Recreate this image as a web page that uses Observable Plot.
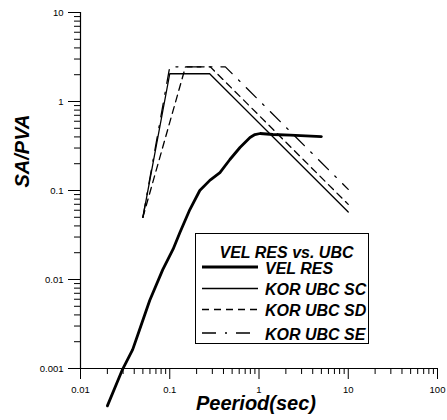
<!DOCTYPE html>
<html><head><meta charset="utf-8">
<script src="https://cdn.jsdelivr.net/npm/d3@7"></script>
<script src="https://cdn.jsdelivr.net/npm/@observablehq/plot@0.6"></script>
<style>body{margin:0;background:#fff;} #chart{width:447px;height:420px;} #dbg{position:absolute;left:250px;top:0;width:195px;font:7px monospace;color:transparent;word-break:break-all;pointer-events:none;}</style>
</head><body><div id="chart"></div><div id="dbg" aria-hidden="true"></div>
<script>
// ---- data ----
const velPeriod = [0.02, 0.0296, 0.0384, 0.046, 0.0596, 0.0835, 0.109, 0.13, 0.168, 0.217, 0.281, 0.365, 0.472, 0.612, 0.793, 0.9, 1.03, 1.43, 2.24, 5.0];
const velSA     = [0.00038, 0.00098, 0.00163, 0.00274, 0.0058, 0.0129, 0.0219, 0.0337, 0.0611, 0.100, 0.130, 0.159, 0.223, 0.304, 0.394, 0.425, 0.437, 0.426, 0.42, 0.404];
const scPeriod = [0.05, 0.1, 0.28, 10];
const scSA     = [0.05, 2.05, 2.05, 0.0574];
const sdPeriod = [0.05, 0.15, 0.285, 10];
const sdSA     = [0.05, 2.45, 2.45, 0.0698];
const sePeriod = [0.05, 0.1, 0.42, 10];
const seSA     = [0.05, 2.45, 2.45, 0.103];
const seriesNames = ["VEL RES", "KOR UBC SC", "KOR UBC SD", "KOR UBC SE"];
const legendTitle = "VEL RES vs. UBC";
const xTitle = "Peeriod(sec)";
const yTitle = "SA/PVA";
const xMajor = [0.01, 0.1, 1, 10, 100];
const xMajorLabels = ["0.01", "0.1", "1", "10", "100"];
const yMajor = [0.001, 0.01, 0.1, 1, 10];
const yMajorLabels = ["0.001", "0.01", "0.1", "1", "10"];
const minorFactors = [2, 3, 4, 5, 6, 7, 8, 9];

// ---- derived ----
const minorOf = majors => majors.slice(0, -1).flatMap(m => minorFactors.map(f => +(m * f).toPrecision(3)));
const xMinor = minorOf(xMajor);
const yMinor = minorOf(yMajor);
const toRows = (xs, ys) => xs.map((x, i) => ({x, y: ys[i]}));
const series = [toRows(velPeriod, velSA), toRows(scPeriod, scSA), toRows(sdPeriod, sdSA), toRows(sePeriod, seSA)];

// ---- styles ----
const styles = [
  {strokeWidth: 2.8, dash: null},
  {strokeWidth: 1.3, dash: null},
  {strokeWidth: 1.3, dash: "7,5"},
  {strokeWidth: 1.3, dash: "14,9,2,9"}
];
const FONT = "Liberation Sans, Arial, Helvetica, sans-serif";

const chart = Plot.plot({
  width: 447, height: 420,
  marginLeft: 80, marginRight: 10, marginTop: 12, marginBottom: 52,
  style: {fontFamily: FONT, fontSize: "9.5px", background: "white", color: "black"},
  x: {type: "log", domain: [0.01, 100], label: null},
  y: {type: "log", domain: [0.001, 10], label: null},
  marks: [
    Plot.axisX({ticks: xMinor, tickSize: 6, stroke: "black", tickFormat: () => "", label: null}),
    Plot.axisX({ticks: xMajor, tickSize: 11, tickPadding: 7, stroke: "black", tickFormat: (d) => xMajorLabels[xMajor.indexOf(d)], label: null}),
    Plot.axisY({ticks: yMinor, tickSize: 6, stroke: "black", tickFormat: () => "", label: null}),
    Plot.axisY({ticks: yMajor, tickSize: 12, tickPadding: 5, stroke: "black", tickFormat: (d) => yMajorLabels[yMajor.indexOf(d)], label: null}),
    Plot.ruleY([yMajor[0]], {stroke: "black", strokeWidth: 1.2}),
    Plot.ruleX([xMajor[0]], {stroke: "black", strokeWidth: 1.2}),
    ...series.map((d, i) => Plot.line(d, {x: "x", y: "y", stroke: "black", strokeWidth: styles[i].strokeWidth, strokeDasharray: styles[i].dash})),
    Plot.text([xTitle], {frameAnchor: "bottom", dx: -3, dy: 41, fill: "black", fontSize: 20, fontWeight: "bold", fontStyle: "italic", fontFamily: FONT}),
    Plot.text([yTitle], {frameAnchor: "left", rotate: -90, dx: -58, dy: -3, fill: "black", fontSize: 20, fontWeight: "bold", fontStyle: "italic", fontFamily: FONT})
  ]
});
document.getElementById("chart").appendChild(chart);

// ---- legend ----
const LFS = 16;
const svg = d3.select(chart);
const lg = svg.append("g")
  .attr("font-family", FONT).attr("font-weight", "bold").attr("font-style", "italic").attr("font-size", LFS).attr("fill", "black");
lg.append("rect").attr("x", 195.5).attr("y", 233.5).attr("width", 173).attr("height", 110)
  .attr("fill", "white").attr("stroke", "black").attr("stroke-width", 1);
lg.append("text").attr("x", 286.5).attr("y", 252.5 + 0.36 * LFS).attr("text-anchor", "middle").text(legendTitle);
const rowY = [267, 288.5, 309.5, 333];
seriesNames.forEach((name, i) => {
  const ln = lg.append("line").attr("x1", 202).attr("x2", 258).attr("y1", rowY[i]).attr("y2", rowY[i])
    .attr("stroke", "black").attr("stroke-width", styles[i].strokeWidth);
  if (styles[i].dash) ln.attr("stroke-dasharray", styles[i].dash);
  lg.append("text").attr("x", 265).attr("y", rowY[i] + 1 + 0.36 * LFS).attr("text-anchor", "start").text(name);
});

// structural summary (invisible)
let s = "";
for (const g of chart.children) {
  const l = g.getAttribute("aria-label") || g.tagName;
  if (/rule|tick/.test(l)) s += "[" + l + " " + g.outerHTML.slice(0, 150) + "] ";
}
document.getElementById("dbg").textContent = s;
</script>
</body></html>
